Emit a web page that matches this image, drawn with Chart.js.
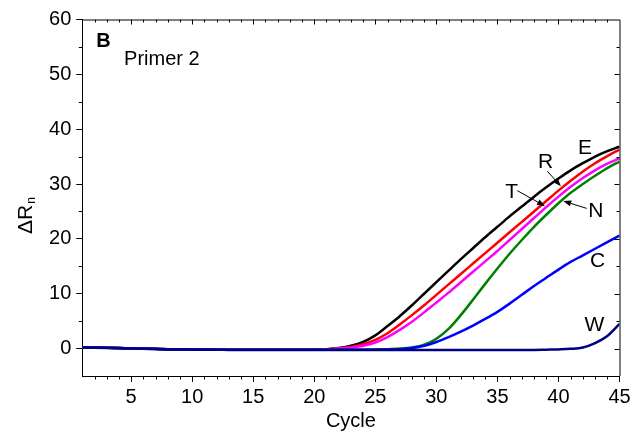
<!DOCTYPE html>
<html>
<head>
<meta charset="utf-8">
<script src="https://cdn.jsdelivr.net/npm/chart.js@4.4.1/dist/chart.umd.min.js"></script>
<style>
html, body { margin: 0; padding: 0; background: #fff; }
#wrap { width: 641px; height: 440px; }
</style>
</head>
<body>
<div id="wrap"><canvas id="pcrChart" width="641" height="440"></canvas></div>
<script>
// amplification curves, one value per cycle
const cycles = [1,2,3,4,5,6,7,8,9,10,11,12,13,14,15,16,17,18,19,20,21,22,23,24,25,26,27,28,29,30,31,32,33,34,35,36,37,38,39,40,41,42,43,44,45];

const valuesE = [0.25,0.2,0.15,0.1,0.05,0.0,-0.05,-0.1,-0.1,-0.15,-0.15,-0.2,-0.2,-0.2,-0.2,-0.2,-0.2,-0.2,-0.2,-0.15,-0.1,0.1,0.5,1.2,2.4,4.1,5.9,7.9,10.0,12.1,14.2,16.3,18.3,20.3,22.2,24.1,25.9,27.7,29.4,31.0,32.5,33.8,35.0,36.0,36.8];
const valuesR = [0.25,0.2,0.15,0.1,0.05,0.0,-0.05,-0.1,-0.1,-0.15,-0.15,-0.2,-0.2,-0.2,-0.2,-0.2,-0.2,-0.2,-0.2,-0.2,-0.15,0.05,0.3,0.8,1.6,2.8,4.4,6.1,7.9,9.8,11.7,13.6,15.5,17.4,19.3,21.2,23.1,25.0,26.9,28.8,30.6,32.3,33.8,35.1,36.3];
const valuesT = [0.25,0.2,0.15,0.1,0.05,0.0,-0.05,-0.1,-0.1,-0.15,-0.15,-0.2,-0.2,-0.2,-0.2,-0.2,-0.2,-0.2,-0.2,-0.2,-0.15,0.0,0.2,0.5,1.1,2.1,3.4,4.9,6.6,8.4,10.2,12.1,14.0,15.9,17.8,19.8,21.8,23.8,25.8,27.7,29.5,31.1,32.5,33.7,34.7];
const valuesN = [0.25,0.2,0.15,0.1,0.05,0.0,-0.05,-0.1,-0.1,-0.15,-0.15,-0.2,-0.2,-0.2,-0.2,-0.2,-0.2,-0.2,-0.2,-0.2,-0.2,-0.2,-0.2,-0.2,-0.15,-0.1,0.0,0.2,0.7,1.8,3.6,6.1,8.9,11.8,14.6,17.3,19.8,22.2,24.4,26.5,28.4,30.0,31.5,32.9,34.1];
const valuesC = [0.25,0.2,0.15,0.1,0.05,0.0,-0.05,-0.1,-0.1,-0.15,-0.15,-0.2,-0.2,-0.2,-0.2,-0.2,-0.2,-0.2,-0.2,-0.2,-0.2,-0.2,-0.2,-0.2,-0.2,-0.15,-0.1,0.1,0.5,1.2,2.1,3.1,4.2,5.4,6.7,8.2,9.8,11.4,12.9,14.4,15.8,17.0,18.2,19.4,20.6];
const valuesW = [0.2,0.15,0.1,0.05,0.0,-0.05,-0.1,-0.15,-0.15,-0.2,-0.2,-0.2,-0.25,-0.25,-0.25,-0.25,-0.25,-0.25,-0.25,-0.25,-0.25,-0.25,-0.25,-0.25,-0.25,-0.25,-0.25,-0.25,-0.25,-0.25,-0.25,-0.25,-0.25,-0.25,-0.25,-0.25,-0.25,-0.25,-0.2,-0.15,-0.05,0.2,1.0,2.3,4.5];

const xTickValues = [5,10,15,20,25,30,35,40,45];
const yTickValues = [0,10,20,30,40,50,60];

// curve labels and arrows, in cycle / ΔRn units
const curveLabels = [
  { text: "E", x: 42.17, y: 36.55 },
  { text: "R", x: 38.94, y: 33.9 },
  { text: "T", x: 36.17, y: 28.6 },
  { text: "N", x: 43.07, y: 25.1 },
  { text: "C", x: 43.2, y: 16.0 },
  { text: "W", x: 42.95, y: 4.3 }
];
const arrows = [
  { from: [39.08, 32.36], to: [40.2, 29.6] },
  { from: [36.63, 28.8], to: [38.9, 25.97] },
  { from: [42.31, 25.56], to: [40.39, 26.9] }
];

const FONT = '"Liberation Sans", Arial, sans-serif';

function pts(vals) {
  return cycles.map((c, i) => ({ x: c, y: vals[i] }));
}
function line(label, vals, color, order) {
  return {
    label: label,
    data: pts(vals),
    borderColor: color,
    borderWidth: 2.5,
    pointRadius: 0,
    fill: false,
    cubicInterpolationMode: "monotone",
    order: order
  };
}

const framePlugin = {
  id: "frame",
  afterDraw(chart) {
    const ctx = chart.ctx;
    const a = chart.chartArea;
    const xs = chart.scales.x;
    const ys = chart.scales.y;
    ctx.save();
    ctx.strokeStyle = "#000";
    ctx.lineWidth = 1;
    ctx.beginPath();
    ctx.moveTo(a.left, a.top + 0.5);
    ctx.lineTo(a.right + 0.5, a.top + 0.5);
    ctx.lineTo(a.right + 0.5, a.bottom);
    ctx.stroke();

    ctx.beginPath();
    // cycle ticks: minor outward on bottom, all inward on top
    for (let c = 2; c <= 44; c++) {
      const px = Math.round(xs.getPixelForValue(c)) + 0.5;
      const major = c % 5 === 0;
      if (!major) {
        ctx.moveTo(px, a.bottom);
        ctx.lineTo(px, a.bottom + 3.5);
      }
      ctx.moveTo(px, a.top);
      ctx.lineTo(px, a.top + (major ? 5 : 3));
    }
    // value ticks: minor outward on left, all inward on right
    for (let v = -5; v <= 60; v += 5) {
      const py = Math.round(ys.getPixelForValue(v)) + 0.5;
      const major = v % 10 === 0;
      if (!major && v > -5) {
        ctx.moveTo(a.left, py);
        ctx.lineTo(a.left - 3.5, py);
      }
      if (v > -5 && v < 60) {
        ctx.moveTo(a.right, py);
        ctx.lineTo(a.right - (major ? 5 : 3), py);
      }
    }
    ctx.stroke();

    ctx.fillStyle = "#000";

    // y axis title ΔRn with subscript n
    ctx.save();
    ctx.translate(32, 234);
    ctx.rotate(-Math.PI / 2);
    ctx.textAlign = "left";
    ctx.textBaseline = "alphabetic";
    ctx.font = "21px " + FONT;
    ctx.fillText("ΔR", 0, 0);
    const w = ctx.measureText("ΔR").width;
    ctx.font = "12px " + FONT;
    ctx.fillText("n", w + 1, 3);
    ctx.restore();

    // panel letter and primer name
    ctx.textBaseline = "middle";
    ctx.textAlign = "center";
    ctx.font = "bold 20px " + FONT;
    ctx.fillText("B", xs.getPixelForValue(2.74), ys.getPixelForValue(56.06));
    ctx.textAlign = "left";
    ctx.font = "20px " + FONT;
    ctx.fillText("Primer 2", xs.getPixelForValue(4.42), ys.getPixelForValue(52.8));

    // curve names
    ctx.textAlign = "center";
    ctx.font = "21px " + FONT;
    curveLabels.forEach(l => {
      ctx.fillText(l.text, xs.getPixelForValue(l.x), ys.getPixelForValue(l.y));
    });

    // arrows
    arrows.forEach(ar => {
      const x1 = xs.getPixelForValue(ar.from[0]), y1 = ys.getPixelForValue(ar.from[1]);
      const x2 = xs.getPixelForValue(ar.to[0]), y2 = ys.getPixelForValue(ar.to[1]);
      const ang = Math.atan2(y2 - y1, x2 - x1);
      const hl = 8, hw = 3;
      const bx = x2 - hl * Math.cos(ang), by = y2 - hl * Math.sin(ang);
      ctx.beginPath();
      ctx.lineWidth = 1;
      ctx.moveTo(x1, y1);
      ctx.lineTo(bx, by);
      ctx.stroke();
      ctx.beginPath();
      ctx.moveTo(x2, y2);
      ctx.lineTo(bx + hw * Math.sin(ang), by - hw * Math.cos(ang));
      ctx.lineTo(bx - hw * Math.sin(ang), by + hw * Math.cos(ang));
      ctx.closePath();
      ctx.fill();
    });
    ctx.restore();
  }
};

new Chart(document.getElementById("pcrChart"), {
  type: "line",
  data: {
    datasets: [
      line("E", valuesE, "#000000", 6),
      line("R", valuesR, "#ff0000", 5),
      line("T", valuesT, "#ff00ff", 4),
      line("N", valuesN, "#008000", 3),
      line("C", valuesC, "#0000ff", 2),
      line("W", valuesW, "#000080", 1)
    ]
  },
  options: {
    responsive: false,
    animation: false,
    layout: { padding: { left: 0, top: 19.5, right: 21.5, bottom: 0 } },
    plugins: { legend: { display: false }, tooltip: { enabled: false } },
    scales: {
      x: {
        type: "linear",
        min: 1,
        max: 45,
        afterBuildTicks: s => { s.ticks = xTickValues.map(v => ({ value: v })); },
        afterFit: s => { s.height = 64; },
        ticks: { autoSkip: false, maxRotation: 0, padding: 3, color: "#000", font: { family: FONT, size: 20 } },
        grid: { drawOnChartArea: false, drawTicks: true, tickLength: 6, color: "#000", lineWidth: 1 },
        border: { display: true, color: "#000", width: 1 },
        title: { display: true, text: "Cycle", color: "#000", font: { family: FONT, size: 20 }, padding: { top: 0, bottom: 7 } }
      },
      y: {
        type: "linear",
        min: -5,
        max: 60,
        afterBuildTicks: s => { s.ticks = yTickValues.map(v => ({ value: v })); },
        afterFit: s => { s.width = 82.3; },
        ticks: { padding: 5, color: "#000", font: { family: FONT, size: 20 } },
        grid: { drawOnChartArea: false, drawTicks: true, tickLength: 6, color: "#000", lineWidth: 1 },
        border: { display: true, color: "#000", width: 1 },
        title: { display: false }
      }
    }
  },
  plugins: [framePlugin]
});
</script>
</body>
</html>
